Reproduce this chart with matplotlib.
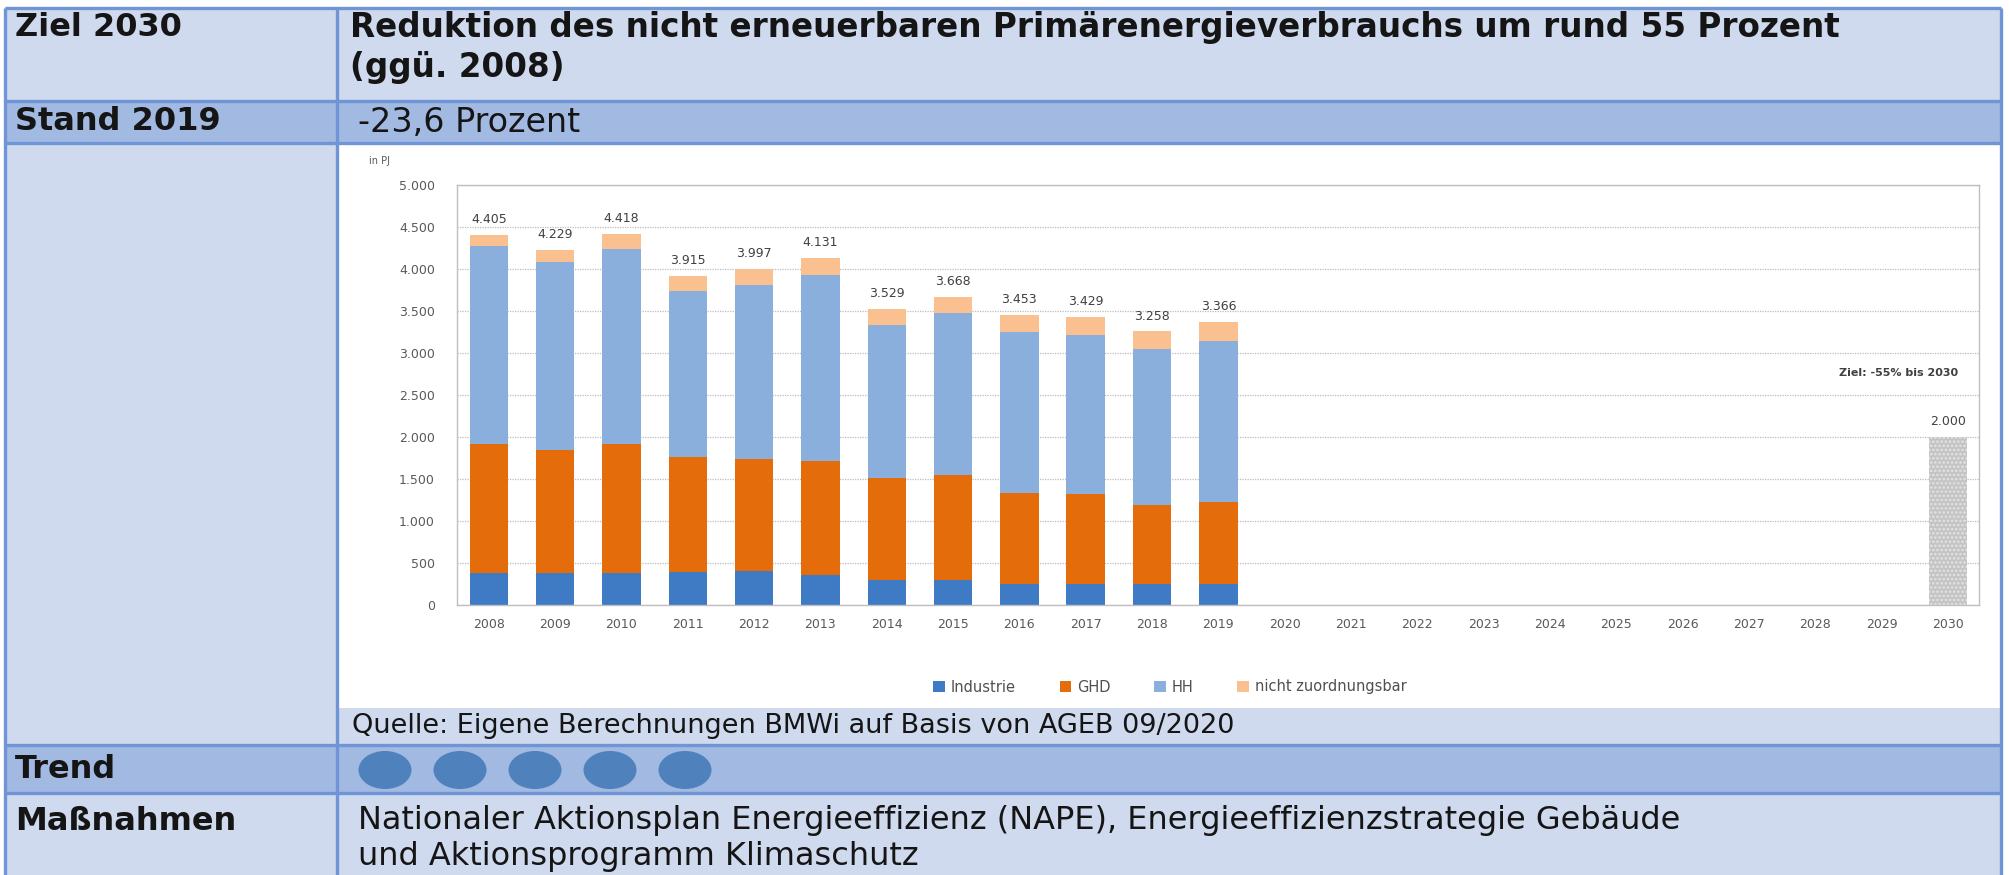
import numpy as np
import matplotlib
matplotlib.use("Agg")
import matplotlib.pyplot as plt
from matplotlib.patches import Rectangle, Ellipse

plt.rcParams['font.family'] = ['DejaVu Sans']
plt.rcParams['hatch.linewidth'] = 1.2

# Daten (in PJ)
years = [str(y) for y in range(2008, 2031)]
industrie = [380, 380, 380, 388, 400, 360, 300, 300, 252, 255, 250, 255]
ghd = [1540, 1460, 1532, 1372, 1340, 1360, 1212, 1252, 1080, 1065, 940, 975]
hh = [2350, 2240, 2328, 1975, 2075, 2210, 1823, 1923, 1915, 1900, 1860, 1910]
nicht = [135, 149, 178, 180, 182, 201, 194, 193, 206, 209, 208, 226]
totals = [4405, 4229, 4418, 3915, 3997, 4131, 3529, 3668, 3453, 3429, 3258, 3366]
ziel_2030 = 2000
trend_punkte = 5

W, H = 2009, 875
hell = '#cfdaee'
dunkel = '#a2b9e2'
rand = '#6f95d6'

fig = plt.figure(figsize=(W / 100, H / 100), dpi=100)
fig.patch.set_facecolor('white')

# Tabelle im Hintergrund, Pixel-Koordinaten
bg = fig.add_axes([0, 0, 1, 1])
bg.set_xlim(0, W)
bg.set_ylim(H, 0)
bg.axis('off')

def box(x0, y0, x1, y1, c):
    bg.add_patch(Rectangle((x0, y0), x1 - x0, y1 - y0, facecolor=c, edgecolor='none'))

box(5, 8, 2001, 101, hell)
box(5, 101, 2001, 143, dunkel)
box(5, 143, 337, 745, hell)
box(337, 143, 2001, 708, 'white')
box(337, 708, 2001, 745, hell)
box(5, 745, 2001, 793, dunkel)
box(5, 793, 2001, H, hell)

for y in [8, 101, 143, 745, 793]:
    bg.plot([5, 2001], [y, y], color=rand, lw=2.4, solid_capstyle='butt')
for x in [5, 337, 2001]:
    bg.plot([x, x], [8, H], color=rand, lw=2.4, solid_capstyle='butt')

gross = 23
tc = '#151515'
bg.text(15, 28, "Ziel 2030", fontsize=gross, fontweight='bold', va='center', color=tc)
bg.text(350, 28, "Reduktion des nicht erneuerbaren Primärenergieverbrauchs um rund 55 Prozent",
        fontsize=23.5, fontweight='bold', va='center', color=tc)
bg.text(350, 68, "(ggü. 2008)", fontsize=23.5, fontweight='bold', va='center', color=tc)
bg.text(15, 122, "Stand 2019", fontsize=gross, fontweight='bold', va='center', color=tc)
bg.text(358, 122, "-23,6 Prozent", fontsize=24, va='center', color=tc)
bg.text(352, 726, "Quelle: Eigene Berechnungen BMWi auf Basis von AGEB 09/2020",
        fontsize=19.5, va='center', color=tc)
bg.text(15, 769, "Trend", fontsize=gross, fontweight='bold', va='center', color=tc)
for i in range(trend_punkte):
    bg.add_patch(Ellipse((385 + 75 * i, 770), 53, 38, facecolor='#4f81bd', edgecolor='none'))
bg.text(15, 821, "Maßnahmen", fontsize=gross, fontweight='bold', va='center', color=tc)
bg.text(358, 821, "Nationaler Aktionsplan Energieeffizienz (NAPE), Energieeffizienzstrategie Gebäude",
        fontsize=23, va='center', color=tc)
bg.text(358, 856, "und Aktionsprogramm Klimaschutz", fontsize=23, va='center', color=tc)
bg.text(369, 161, "in PJ", fontsize=7, va='center', color='#595959')

# Diagramm
ax = fig.add_axes([457 / W, 1 - 605 / H, (1979 - 457) / W, (605 - 185) / H])
x = np.arange(len(years))
xd = x[:len(totals)]
bw = 0.58
ind = np.array(industrie)
g = np.array(ghd)
h = np.array(hh)
b1 = ax.bar(xd, ind, bw, color='#3f7ac4', label='Industrie')
b2 = ax.bar(xd, g, bw, bottom=ind, color='#e46c0a', label='GHD')
b3 = ax.bar(xd, h, bw, bottom=ind + g, color='#8aafdc', label='HH')
b4 = ax.bar(xd, nicht, bw, bottom=ind + g + h, color='#fac08f', label='nicht zuordnungsbar')
ax.bar(x[-1], ziel_2030, bw, color='#c4c4c4', hatch='....', edgecolor='#e4e4e4', linewidth=0)

def fmt(v):
    return f"{v:,}".replace(',', '.')

for i, v in enumerate(totals):
    ax.annotate(fmt(v), (xd[i], v), xytext=(0, 11), textcoords='offset points',
                ha='center', va='center', fontsize=9, color='#404040')
ax.annotate(fmt(ziel_2030), (x[-1], ziel_2030), xytext=(0, 11), textcoords='offset points',
            ha='center', va='center', fontsize=9, color='#404040')
ax.text(x[-1] + 0.15, 2760, "Ziel: -55% bis 2030", ha='right', va='center',
        fontsize=8, fontweight='bold', color='#404040')

ax.set_xlim(-0.48, 22.47)
ax.set_ylim(0, 5000)
ax.set_xticks(x)
ax.set_xticklabels(years)
ax.set_yticks(np.arange(0, 5001, 500))
ax.set_yticklabels([fmt(v) for v in range(0, 5001, 500)])
ax.tick_params(axis='both', length=0, labelsize=9, labelcolor='#595959')
ax.tick_params(axis='y', pad=16)
ax.tick_params(axis='x', pad=9)
ax.yaxis.grid(True, linestyle=(0, (1, 1)), color='#bdbdbd', lw=0.9)
ax.set_axisbelow(True)
for s in ax.spines.values():
    s.set_color('#bfbfbf')
    s.set_linewidth(1)

ax.legend([b1, b2, b3, b4], ['Industrie', 'GHD', 'HH', 'nicht zuordnungsbar'],
          loc='center', bbox_to_anchor=(1170 / W, 1 - 687 / H), bbox_transform=fig.transFigure,
          ncol=4, frameon=False, fontsize=10.5, handlelength=0.8, handleheight=0.8,
          handletextpad=0.4, columnspacing=3.0, labelcolor='#505050')

fig.savefig("out.png", dpi=100)
